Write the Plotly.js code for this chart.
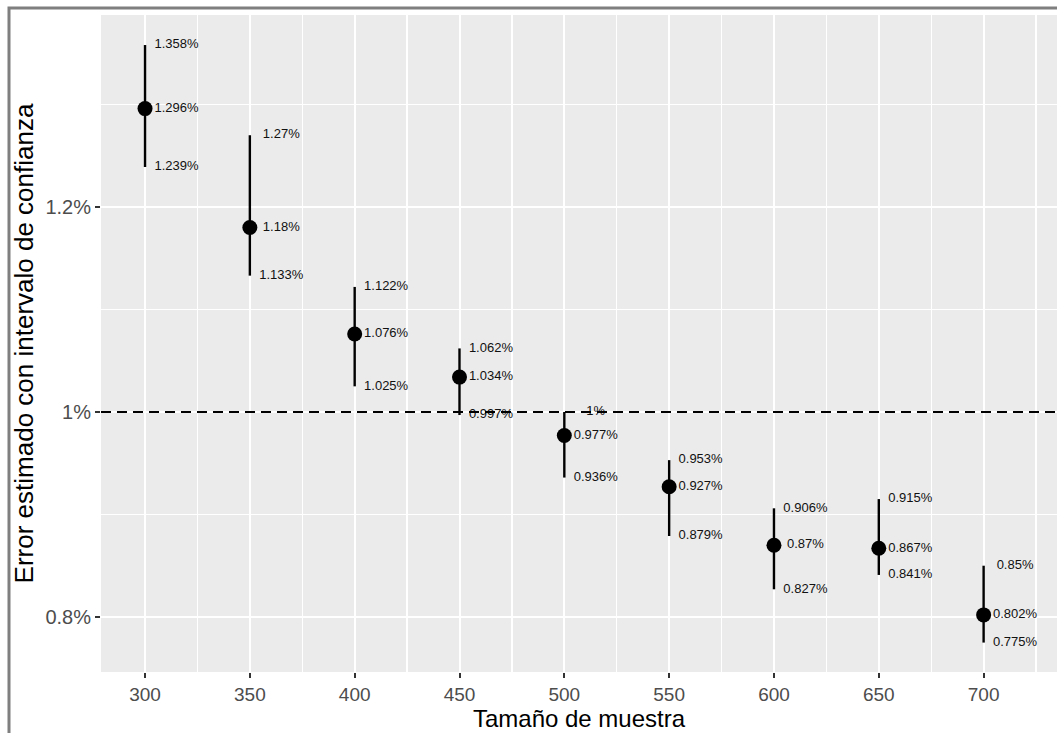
<!DOCTYPE html>
<html>
<head>
<meta charset="utf-8">
<script src="https://cdn.plot.ly/plotly-3.0.1.min.js"></script>
<style>
  html, body { margin: 0; padding: 0; background: #ffffff; }
  #chart { width: 1057px; height: 733px; }
</style>
</head>
<body>
<div id="chart"></div>
<script>
// Sample sizes and estimated error (in %) with its confidence interval
const sampleSize = [300, 350, 400, 450, 500, 550, 600, 650, 700];
const estimate   = [1.296, 1.18, 1.076, 1.034, 0.977, 0.927, 0.87, 0.867, 0.802];
const upper      = [1.358, 1.27, 1.122, 1.062, 1.0, 0.953, 0.906, 0.915, 0.85];
const lower      = [1.239, 1.133, 1.025, 0.997, 0.936, 0.879, 0.827, 0.841, 0.775];
const yTickVals  = [0.8, 1.0, 1.2];
const yTickText  = ['0.8%', '1%', '1.2%'];
const targetError = 1.0;

const FONT = '"Liberation Sans", Arial, sans-serif';
const labelNudge = 15;
const labelX = sampleSize.map(v => v + labelNudge);
const pct = v => String(v) + '%';

const W = 1057, H = 733;
const M = { l: 101, r: 0, t: 15, b: 61 };
const plotW = W - M.l - M.r, plotH = H - M.t - M.b;
const px2x = p => (p - M.l) / plotW;
const px2y = p => 1 - (p - M.t) / plotH;

const labelFont = { family: FONT, size: 13, color: '#111111' };

const traces = [
  {
    type: 'scatter', mode: 'markers',
    x: sampleSize, y: estimate,
    marker: { color: '#000000', size: 15 },
    error_y: {
      type: 'data', symmetric: false,
      array: upper.map((u, i) => u - estimate[i]),
      arrayminus: lower.map((l, i) => estimate[i] - l),
      color: '#000000', thickness: 2.4, width: 0
    },
    hoverinfo: 'skip'
  },
  {
    type: 'scatter', mode: 'text',
    x: labelX, y: upper, text: upper.map(pct),
    textposition: 'middle center', textfont: labelFont, hoverinfo: 'skip'
  },
  {
    type: 'scatter', mode: 'text',
    x: labelX, y: estimate, text: estimate.map(pct),
    textposition: 'middle center', textfont: labelFont, hoverinfo: 'skip'
  },
  {
    type: 'scatter', mode: 'text',
    x: labelX, y: lower, text: lower.map(pct),
    textposition: 'middle center', textfont: labelFont, hoverinfo: 'skip'
  }
];

const layout = {
  width: W, height: H,
  margin: M,
  paper_bgcolor: '#ffffff',
  plot_bgcolor: '#ebebeb',
  showlegend: false,
  font: { family: FONT },
  xaxis: {
    range: [279, 735],
    tick0: 300, dtick: 50,
    showgrid: true, gridcolor: '#ffffff', gridwidth: 2,
    minor: { dtick: 25, tick0: 300, showgrid: true, gridcolor: '#ffffff', gridwidth: 1.2 },
    zeroline: false, showline: false,
    ticks: 'outside', ticklen: 5, tickwidth: 2, tickcolor: '#333333',
    tickfont: { family: FONT, size: 19, color: '#4d4d4d' },
    title: { text: 'Tamaño de muestra', font: { family: FONT, size: 24, color: '#000000' }, standoff: 4 }
  },
  yaxis: {
    range: [0.7463, 1.3873],
    tickvals: yTickVals, ticktext: yTickText,
    showgrid: true, gridcolor: '#ffffff', gridwidth: 2,
    minor: { dtick: 0.1, tick0: 0.8, showgrid: true, gridcolor: '#ffffff', gridwidth: 1.2 },
    zeroline: false, showline: false,
    ticks: 'outside', ticklen: 5, tickwidth: 2, tickcolor: '#333333',
    tickfont: { family: FONT, size: 20, color: '#4d4d4d' },
    title: { text: 'Error estimado con intervalo de confianza', font: { family: FONT, size: 26, color: '#000000' }, standoff: 4 }
  },
  shapes: [
    {
      type: 'line', xref: 'paper', yref: 'y',
      x0: 0, x1: 1, y0: targetError, y1: targetError,
      line: { color: '#000000', width: 2, dash: '10px,6px' },
      layer: 'above'
    },
    {
      type: 'path', xref: 'paper', yref: 'paper',
      path: 'M ' + px2x(9) + ' ' + px2y(H + 5) +
            ' L ' + px2x(9) + ' ' + px2y(8) +
            ' L ' + px2x(W + 5) + ' ' + px2y(8),
      line: { color: '#7f7f7f', width: 3 },
      layer: 'above'
    }
  ]
};

Plotly.newPlot('chart', traces, layout, { displayModeBar: false, staticPlot: true });
</script>
</body>
</html>
